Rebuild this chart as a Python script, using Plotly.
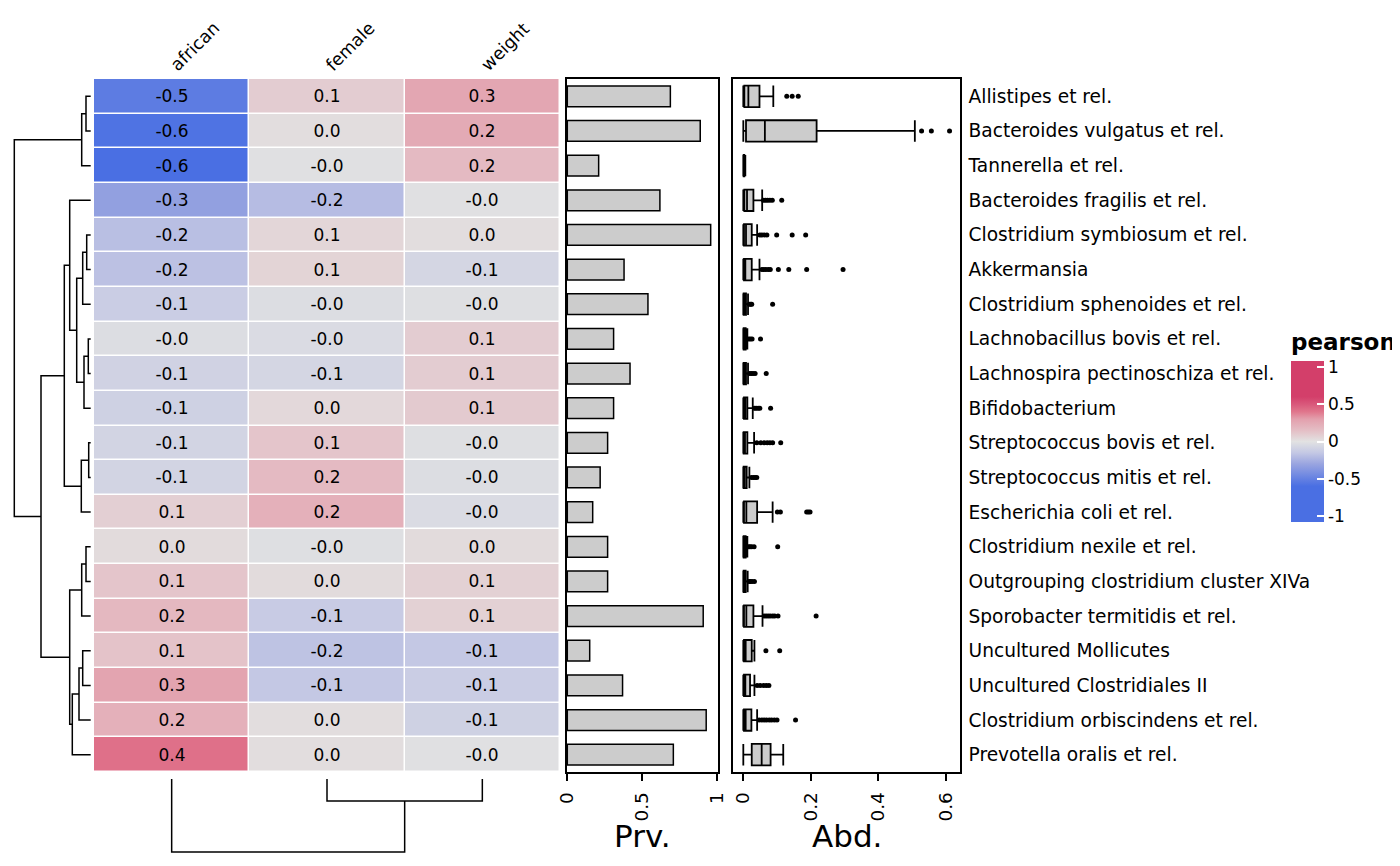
import plotly.graph_objects as go

# rows in heatmap order (top to bottom)
taxa = ["Allistipes et rel.", "Bacteroides vulgatus et rel.", "Tannerella et rel.",
        "Bacteroides fragilis et rel.", "Clostridium symbiosum et rel.", "Akkermansia",
        "Clostridium sphenoides et rel.", "Lachnobacillus bovis et rel.",
        "Lachnospira pectinoschiza et rel.", "Bifidobacterium",
        "Streptococcus bovis et rel.", "Streptococcus mitis et rel.",
        "Escherichia coli et rel.", "Clostridium nexile et rel.",
        "Outgrouping clostridium cluster XIVa", "Sporobacter termitidis et rel.",
        "Uncultured Mollicutes", "Uncultured Clostridiales II",
        "Clostridium orbiscindens et rel.", "Prevotella oralis et rel."]
variables = ["african", "female", "weight"]

# pearson correlations
african = [-0.53, -0.58, -0.62, -0.33, -0.19, -0.18, -0.12, -0.03, -0.09, -0.10,
           -0.08, -0.08, 0.08, 0.03, 0.12, 0.18, 0.13, 0.28, 0.22, 0.42]
female = [0.09, 0.02, -0.01, -0.20, 0.05, 0.06, -0.03, -0.04, -0.07, 0.04,
          0.12, 0.17, 0.22, -0.02, 0.03, -0.13, -0.17, -0.15, 0.02, 0.02]
weight = [0.27, 0.25, 0.17, -0.01, 0.02, -0.07, -0.02, 0.09, 0.09, 0.10,
          -0.02, -0.03, -0.04, 0.03, 0.07, 0.07, -0.15, -0.12, -0.10, -0.01]

# prevalence
prevalence = [0.69, 0.89, 0.21, 0.62, 0.96, 0.38, 0.54, 0.31, 0.42, 0.31,
              0.27, 0.22, 0.17, 0.27, 0.27, 0.91, 0.15, 0.37, 0.93, 0.71]

# abundance box stats
abd_low = [0.0, 0.0, 0.0, 0.0, 0.0, 0.0, 0.0, 0.0, 0.0, 0.0,
           0.0, 0.0, 0.0, 0.0, 0.0, 0.0, 0.0, 0.0, 0.0, 0.0]
abd_q1 = [0.003, 0.008, 0.001, 0.003, 0.002, 0.002, 0.001, 0.001, 0.001, 0.002,
          0.001, 0.001, 0.002, 0.001, 0.001, 0.002, 0.002, 0.002, 0.002, 0.025]
abd_med = [0.015, 0.064, 0.002, 0.011, 0.008, 0.006, 0.003, 0.003, 0.004, 0.006,
           0.005, 0.004, 0.009, 0.003, 0.003, 0.009, 0.007, 0.006, 0.007, 0.0545]
abd_q3 = [0.048, 0.2175, 0.003, 0.030, 0.025, 0.025, 0.008, 0.007, 0.008, 0.012,
          0.012, 0.010, 0.041, 0.007, 0.007, 0.030, 0.025, 0.020, 0.024, 0.081]
abd_high = [0.089, 0.509, 0.006, 0.056, 0.041, 0.048, 0.014, 0.012, 0.014, 0.028,
            0.032, 0.018, 0.087, 0.012, 0.013, 0.057, 0.033, 0.033, 0.041, 0.1185]
abd_outliers = [
    [0.129, 0.145, 0.163],
    [0.529, 0.558, 0.612],
    [],
    [0.060, 0.066, 0.072, 0.079, 0.086, 0.114],
    [0.049, 0.055, 0.062, 0.070, 0.099, 0.145, 0.185],
    [0.055, 0.061, 0.067, 0.074, 0.080, 0.104, 0.135, 0.188, 0.296],
    [0.018, 0.022, 0.025, 0.087],
    [0.016, 0.021, 0.026, 0.051],
    [0.019, 0.024, 0.029, 0.035, 0.068],
    [0.033, 0.038, 0.044, 0.049, 0.081],
    [0.040, 0.052, 0.062, 0.071, 0.079, 0.087, 0.111],
    [0.024, 0.030, 0.035, 0.040],
    [0.101, 0.110, 0.188, 0.193, 0.198],
    [0.016, 0.020, 0.025, 0.032, 0.102],
    [0.017, 0.021, 0.026, 0.033],
    [0.062, 0.068, 0.074, 0.080, 0.087, 0.093, 0.103, 0.216],
    [0.067, 0.108],
    [0.041, 0.050, 0.060, 0.068, 0.076],
    [0.047, 0.055, 0.062, 0.069, 0.077, 0.084, 0.092, 0.100, 0.155],
    [],
]

# dendrograms: (child a, child b, height); children >= n refer to earlier merges
row_merges = [(0, 1, 4.7), (20, 2, 9.0), (4, 5, 4.0), (22, 6, 8.0), (7, 8, 2.4),
              (24, 9, 6.7), (23, 25, 14.0), (3, 26, 21.0), (10, 11, 2.0), (28, 12, 9.4),
              (27, 29, 26.4), (13, 14, 4.7), (31, 15, 9.0), (16, 17, 8.0), (33, 18, 11.7),
              (34, 19, 18.4), (32, 35, 21.0), (30, 36, 49.7), (21, 37, 76.4)]
col_merges = [(1, 2, 22.0), (0, 3, 73.0)]

# colour map breaks
color_breaks = [-0.6, -0.3, -0.15, 0.0, 0.15, 0.3, 0.4, 0.5, 0.6]
color_values = ["#4A6FE3", "#9AA5E0", "#C4C8E4", "#E2E2E2", "#E4BEC5", "#E3A0AD",
                "#E0768C", "#D9587B", "#D33F6A"]
zlim = 1.08


def dendro_lines(merges, n):
    pos = list(range(n))
    hgt = [0.0] * n
    hs, ps = [], []
    for a, b, h in merges:
        hs += [hgt[a], h, h, hgt[b], None]
        ps += [pos[a], pos[a], pos[b], pos[b], None]
        pos.append((pos[a] + pos[b]) / 2)
        hgt.append(h)
    return hs, ps


W, H = 1400, 866
PAD = 8  # page body margin around the plot div


def fx(p):
    return (p - PAD) / W


def fy(p):
    return 1 - (p - PAD) / H


n = len(taxa)
rows = list(range(n))
row_dom = [fy(772), fy(79)]
black = "black"

colorscale = [[0, color_values[0]]]
colorscale += [[(b + zlim) / (2 * zlim), c] for b, c in zip(color_breaks, color_values)]
colorscale += [[1, color_values[-1]]]

z = [[african[i], female[i], weight[i]] for i in rows]
text = [[f"{v:.1f}" for v in r] for r in z]

fig = go.Figure()

fig.add_trace(go.Heatmap(
    z=z, x=[0, 1, 2], y=rows, text=text, texttemplate="%{text}",
    textfont=dict(size=17, color=black), colorscale=colorscale,
    zmin=-zlim, zmax=zlim, xgap=1.5, ygap=1.5, hoverinfo="skip",
    colorbar=dict(
        x=fx(1291), xanchor="left", y=fy(330), yanchor="top",
        thickness=33, lenmode="pixels", len=192, outlinewidth=0,
        tickvals=[-1, -0.5, 0, 0.5, 1], ticktext=["-1", "-0.5", "0", "0.5", "1"],
        ticks="inside", ticklen=7, tickwidth=2, tickcolor="white",
        tickfont=dict(size=17), xpad=0, ypad=0,
        title=dict(text="<b>pearson</b>", side="top", font=dict(size=23)),
    ),
))

# row dendrogram
rh, rp = dendro_lines(row_merges, n)
fig.add_trace(go.Scatter(x=rh, y=rp, mode="lines", xaxis="x2", yaxis="y",
                         line=dict(color=black, width=1.5), hoverinfo="skip"))

# column dendrogram
ch, cp = dendro_lines(col_merges, len(variables))
fig.add_trace(go.Scatter(x=cp, y=ch, mode="lines", xaxis="x", yaxis="y4",
                         line=dict(color=black, width=1.5), hoverinfo="skip"))

# prevalence bars
fig.add_trace(go.Bar(x=prevalence, y=rows, orientation="h", xaxis="x3", yaxis="y2",
                     width=0.6, marker=dict(color="#CCCCCC", line=dict(color=black, width=1.5))))

# abundance boxes
fig.add_trace(go.Box(y=rows, q1=abd_q1, median=abd_med, q3=abd_q3,
                     lowerfence=abd_low, upperfence=abd_high, orientation="h",
                     xaxis="x4", yaxis="y3", width=0.62, whiskerwidth=1,
                     fillcolor="#CCCCCC", line=dict(color=black, width=1.8),
                     boxpoints=False))
ox, oy = [], []
for i, outs in enumerate(abd_outliers):
    ox += outs
    oy += [i] * len(outs)
fig.add_trace(go.Scatter(x=ox, y=oy, mode="markers", xaxis="x4", yaxis="y3",
                         marker=dict(color=black, size=5), hoverinfo="skip"))

panel = dict(showline=True, mirror=True, linecolor=black, linewidth=1.6,
             showgrid=False, zeroline=False, automargin=False)

fig.update_layout(
    width=W, height=H, margin=dict(l=0, r=0, t=0, b=0, autoexpand=False),
    paper_bgcolor="white", plot_bgcolor="white", showlegend=False,
    font=dict(family="DejaVu Sans", size=17, color=black),
    xaxis=dict(domain=[fx(94), fx(560)], range=[-0.5, 2.5], anchor="y", side="top",
               tickvals=[0, 1, 2], ticktext=variables, tickangle=-45, ticks="",
               showgrid=False, zeroline=False, tickfont=dict(size=17.5),
               automargin=False),
    yaxis=dict(domain=row_dom, range=[n - 0.5, -0.5], anchor="x", visible=False),
    xaxis2=dict(domain=[0, fx(94)], range=[82.7, -3.3], anchor="y", visible=False),
    xaxis3=dict(domain=[fx(566.7), fx(718.3)], range=[-0.004, 1.011], anchor="y2",
                tickvals=[0, 0.5, 1], ticktext=["0", "0.5", "1"], tickangle=-90,
                ticks="outside", ticklen=7, tickcolor=black, tickwidth=1.6,
                tickfont=dict(size=18.5), ticklabelstandoff=4, **panel),
    yaxis2=dict(domain=row_dom, range=[n - 0.5, -0.5], anchor="x3",
                showticklabels=False, ticks="", **panel),
    xaxis4=dict(domain=[fx(733), fx(960)], range=[-0.0306, 0.643], anchor="y3",
                tickvals=[0, 0.2, 0.4, 0.6], ticktext=["0", "0.2", "0.4", "0.6"],
                tickangle=-90, ticks="outside", ticklen=7, tickcolor=black,
                tickwidth=1.6, tickfont=dict(size=18.5), ticklabelstandoff=4, **panel),
    yaxis3=dict(domain=row_dom, range=[n - 0.5, -0.5], anchor="x4", side="right",
                tickvals=rows, ticktext=taxa, ticks="", ticklabelstandoff=3,
                tickfont=dict(size=18.6), **panel),
    yaxis4=dict(domain=[0, fy(775)], range=[95, -4], anchor="x", visible=False),
    annotations=[
        dict(text="Prv.", xref="x3 domain", x=0.5, yref="paper", y=fy(836),
             showarrow=False, font=dict(size=31), yanchor="middle"),
        dict(text="Abd.", xref="x4 domain", x=0.5, yref="paper", y=fy(836),
             showarrow=False, font=dict(size=31), yanchor="middle"),
    ],
)

fig.write_html("out.html")
